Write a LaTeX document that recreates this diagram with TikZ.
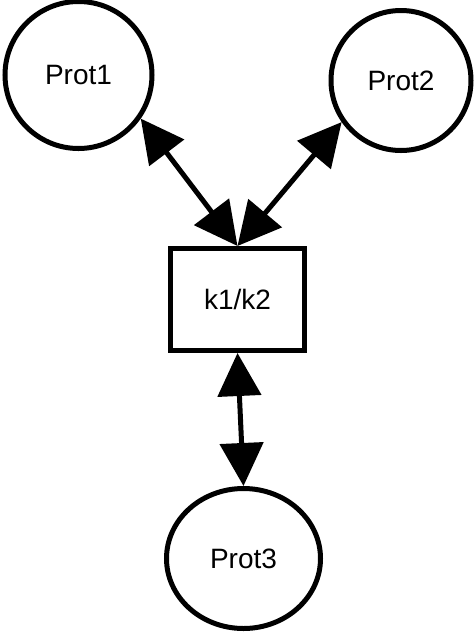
\documentclass[tikz,border=0pt]{standalone}
\usepackage{fontspec}
\setmainfont{Liberation Sans}
\usepackage{tikz}
\usetikzlibrary{arrows.meta,shapes.geometric}

\begin{document}
\begin{tikzpicture}[x=1pt,y=-1pt]
\useasboundingbox (0,0) rectangle (474,633);
\begin{scope}[>={Triangle[length=43pt,width=43pt]},line width=5pt,
  font=\fontsize{28}{34}\selectfont]

    \node[draw,circle,inner sep=0pt,minimum size=147pt] (p1) at (78.5,75) {Prot1};
    \node[draw,circle,inner sep=0pt,minimum size=140pt] (p2) at (401,80.5) {Prot2};
    \node[draw,rectangle,minimum width=134pt,minimum height=102pt] (k) at (237.5,299.5) {k1/k2};
    \node[draw,ellipse,inner sep=0pt,minimum width=154pt,minimum height=140pt] (p3) at (243.5,558.5) {Prot3};

    \draw[<->] (p1.-35) -- (k.north);
    \draw[<->] (p2.215) -- (k.north);
    \draw[<->] (k.south) -- (p3.north);

\end{scope}
\end{tikzpicture}
\end{document}
